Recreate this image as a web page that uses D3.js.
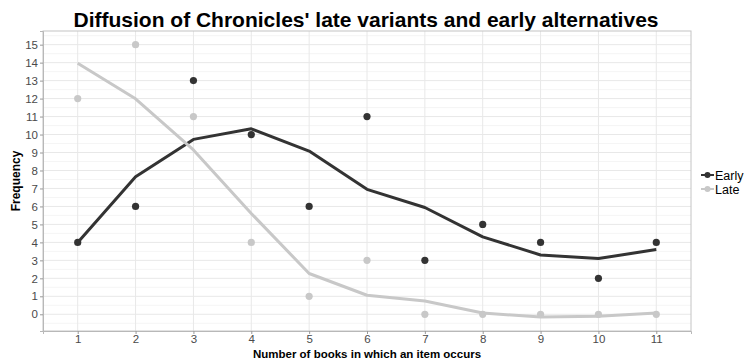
<!DOCTYPE html>
<html>
<head>
<meta charset="utf-8">
<script src="https://cdn.jsdelivr.net/npm/d3@7"></script>
<style>
  html, body { margin: 0; padding: 0; background: #fff; }
  svg { display: block; font-family: "Liberation Sans", Arial, sans-serif; }
</style>
</head>
<body>
<svg id="chart" width="748" height="360"></svg>
<script>
// Number of books in which an item occurs
const books = [1, 2, 3, 4, 5, 6, 7, 8, 9, 10, 11];

// Observed frequencies
const earlyCounts = [4, 6, 13, 10, 6, 11, 3, 5, 4, 2, 4];
const lateCounts = [12, 15, 11, 4, 1, 3, 0, 0, 0, 0, 0];

// Smoothed trend values per book count
const earlySmooth = [4.0, 7.65, 9.73, 10.32, 9.08, 6.95, 5.94, 4.31, 3.3, 3.1, 3.6];
const lateSmooth = [13.97, 11.99, 9.14, 5.61, 2.27, 1.06, 0.74, 0.07, -0.15, -0.11, 0.07];

const yTicks = d3.range(0, 16);
const seriesNames = ["Early", "Late"];
const seriesColors = ["#333333", "#c8c8c8"];

const svg = d3.select("#chart");
const panel = { left: 43, right: 691, top: 31, bottom: 331 };

const x = d3.scaleLinear().domain([0.4, 11.6]).range([panel.left, panel.right]);
const y = d3.scaleLinear().domain([-0.93, 15.76]).range([panel.bottom, panel.top]);

// Panel background
svg.append("rect")
  .attr("x", panel.left).attr("y", panel.top)
  .attr("width", panel.right - panel.left).attr("height", panel.bottom - panel.top)
  .attr("fill", "#fff");

// Grid lines: minor horizontals at halves, majors at integers
const grid = svg.append("g");
grid.selectAll("line.minor")
  .data(d3.range(-0.5, 15.6, 1))
  .join("line")
  .attr("x1", panel.left).attr("x2", panel.right)
  .attr("y1", d => y(d)).attr("y2", d => y(d))
  .attr("stroke", "#f2f2f2").attr("stroke-width", 0.8);
grid.selectAll("line.majorY")
  .data(yTicks)
  .join("line")
  .attr("x1", panel.left).attr("x2", panel.right)
  .attr("y1", d => y(d)).attr("y2", d => y(d))
  .attr("stroke", "#e8e8e8").attr("stroke-width", 1);
grid.selectAll("line.majorX")
  .data(books)
  .join("line")
  .attr("y1", panel.top).attr("y2", panel.bottom)
  .attr("x1", d => x(d)).attr("x2", d => x(d))
  .attr("stroke", "#e8e8e8").attr("stroke-width", 1);

// Panel border
svg.append("rect")
  .attr("x", panel.left).attr("y", panel.top)
  .attr("width", panel.right - panel.left).attr("height", panel.bottom - panel.top)
  .attr("fill", "none").attr("stroke", "#c4c4c4").attr("stroke-width", 1);

// Axes
const xAxis = d3.axisBottom(x).tickValues(books).tickSize(3).tickPadding(1).tickFormat(d3.format("d"));
const yAxis = d3.axisLeft(y).tickValues(yTicks).tickSize(3).tickPadding(2).tickFormat(d3.format("d"));

const gx = svg.append("g").attr("transform", `translate(0,${panel.bottom})`).call(xAxis);
const gy = svg.append("g").attr("transform", `translate(${panel.left},0)`).call(yAxis);
[gx, gy].forEach(g => {
  g.select(".domain").attr("stroke", "#b8b8b8");
  g.selectAll(".tick line").attr("stroke", "#9a9a9a");
  g.selectAll(".tick text").attr("fill", "#4a4a4a").style("font-size", "11.5px")
    .style("font-family", "'Liberation Sans', Arial, sans-serif");
});

// Points
const seriesCounts = [earlyCounts, lateCounts];
const seriesSmooth = [earlySmooth, lateSmooth];

seriesCounts.forEach((counts, i) => {
  svg.append("g").selectAll("circle")
    .data(books.map((b, j) => [b, counts[j]]))
    .join("circle")
    .attr("cx", d => x(d[0])).attr("cy", d => y(d[1]))
    .attr("r", 3.6)
    .attr("fill", seriesColors[i]);
});

// Smoothed trend lines
const line = d3.line().x(d => x(d[0])).y(d => y(d[1]));
seriesSmooth.forEach((vals, i) => {
  svg.append("path")
    .datum(books.map((b, j) => [b, vals[j]]))
    .attr("d", line)
    .attr("fill", "none")
    .attr("stroke", seriesColors[i])
    .attr("stroke-width", 3)
    .attr("stroke-linejoin", "round");
});

// Title
svg.append("text")
  .attr("x", 366).attr("y", 27)
  .attr("text-anchor", "middle")
  .style("font-size", "21px").style("font-weight", "bold")
  .attr("fill", "#000")
  .text("Diffusion of Chronicles' late variants and early alternatives");

// Axis titles
svg.append("text")
  .attr("x", (panel.left + panel.right) / 2).attr("y", 358)
  .attr("text-anchor", "middle")
  .style("font-size", "11.5px").style("font-weight", "bold")
  .text("Number of books in which an item occurs");

svg.append("text")
  .attr("transform", `translate(20,${(panel.top + panel.bottom) / 2}) rotate(-90)`)
  .attr("text-anchor", "middle")
  .style("font-size", "12px").style("font-weight", "bold")
  .text("Frequency");

// Legend
const legend = svg.append("g").attr("transform", "translate(701,175)");
seriesNames.forEach((name, i) => {
  const g = legend.append("g").attr("transform", `translate(0,${i * 14})`);
  g.append("line").attr("x1", 0).attr("x2", 13).attr("y1", 0).attr("y2", 0)
    .attr("stroke", seriesColors[i]).attr("stroke-width", 2);
  g.append("circle").attr("cx", 6.5).attr("cy", 0).attr("r", 3).attr("fill", seriesColors[i]);
  g.append("text").attr("x", 14).attr("y", 4.5)
    .style("font-size", "12.5px").attr("fill", "#000")
    .text(name);
});
</script>
</body>
</html>
